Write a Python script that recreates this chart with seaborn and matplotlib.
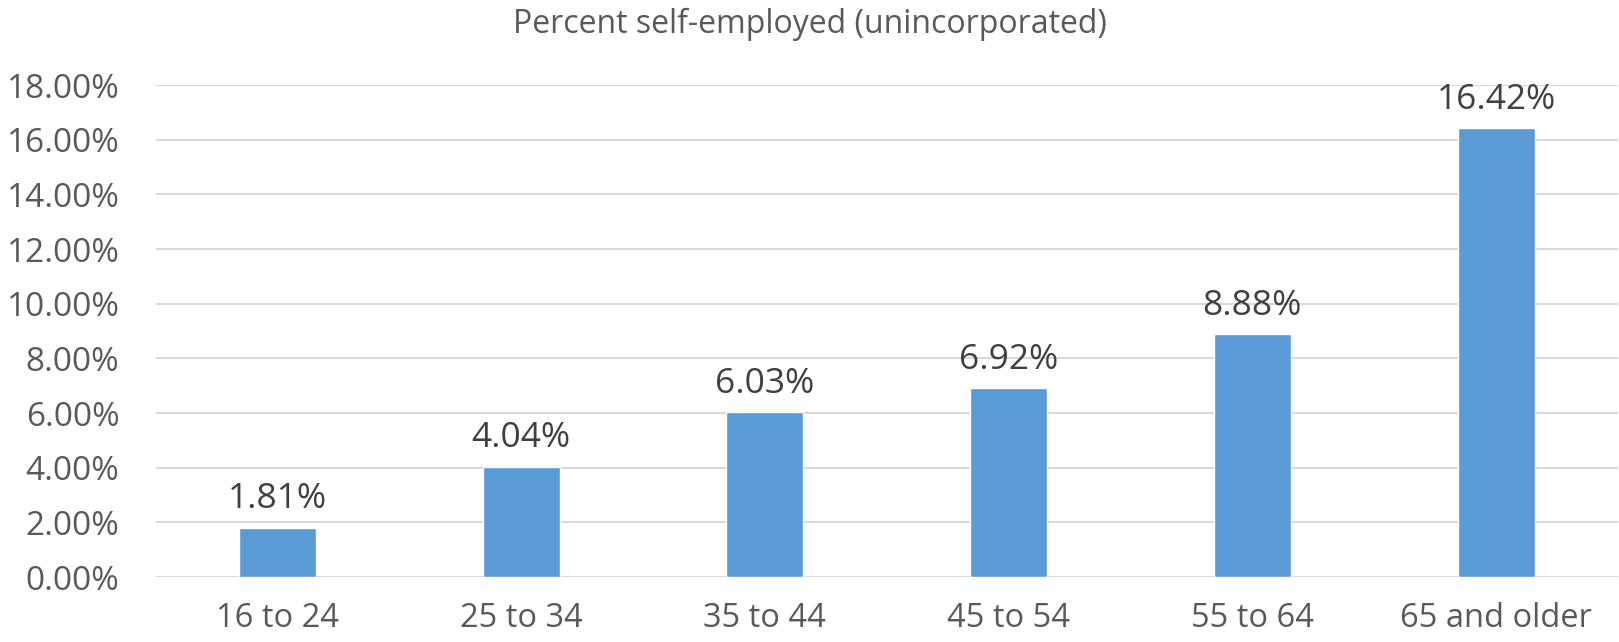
import matplotlib
matplotlib.use('Agg')
import matplotlib.pyplot as plt
import seaborn as sns
import pandas as pd
from matplotlib.ticker import PercentFormatter

age_groups = ['16 to 24', '25 to 34', '35 to 44', '45 to 54', '55 to 64', '65 and older']
pct_self_employed = [0.0181, 0.0404, 0.0603, 0.0692, 0.0888, 0.1642]

df = pd.DataFrame({'age': age_groups, 'pct': pct_self_employed})

sns.set_style('white')
plt.rcParams['font.family'] = ['Open Sans', 'DejaVu Sans']

fig = plt.figure(figsize=(16.19, 6.42), dpi=100)
ax = fig.add_axes([0.0961, 0.1012, 0.9033, 0.7664])

sns.barplot(data=df, x='age', y='pct', color='#5B9BD5', saturation=1, width=0.316, ax=ax)

ax.set_ylim(0, 0.18)
ax.set_yticks([i * 0.02 for i in range(10)])
ax.yaxis.set_major_formatter(PercentFormatter(1.0, decimals=2))
ax.grid(axis='y', color='#D9D9D9', linewidth=1.5)
ax.set_axisbelow(True)
for s in ax.spines.values():
    s.set_visible(False)
ax.tick_params(axis='y', length=0, pad=26, labelsize=24, labelcolor='#595959')
ax.tick_params(axis='x', length=0, pad=18, labelsize=23.5, labelcolor='#595959')
ax.set_xlabel('')
ax.set_ylabel('')

for i, v in enumerate(pct_self_employed):
    ax.annotate(f'{v*100:.2f}%', (i, v), xytext=(0, 8), textcoords='offset points',
                ha='center', va='bottom', fontsize=25.5, color='#404040')

fig.text(0.5, 1 - 24 / 642, 'Percent self-employed (unincorporated)', ha='center', va='center',
         fontsize=23, color='#595959')

fig.savefig('out.png', dpi=100)
